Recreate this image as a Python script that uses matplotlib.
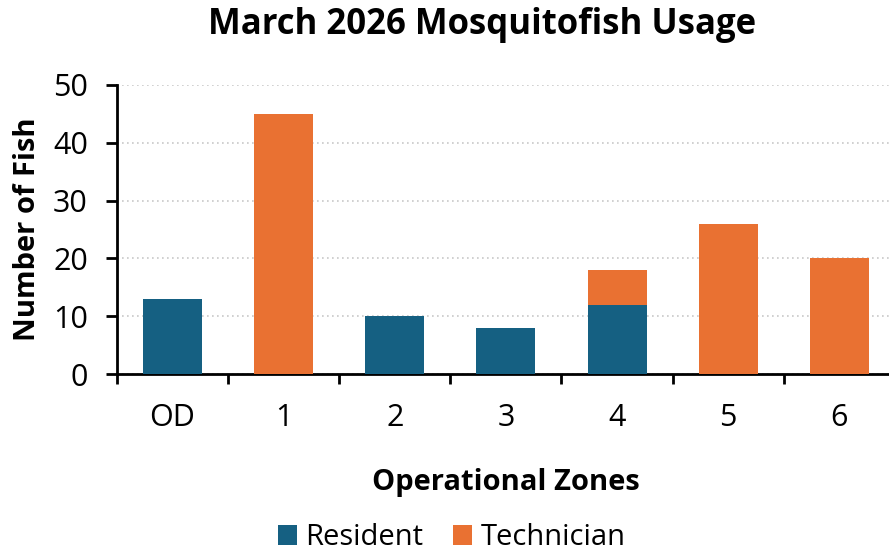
import numpy as np
import matplotlib
matplotlib.use('Agg')
import matplotlib.pyplot as plt

# Data
zones = ['OD', '1', '2', '3', '4', '5', '6']
resident = [13, 0, 10, 8, 12, 0, 0]
technician = [0, 45, 0, 0, 6, 26, 20]

plt.rcParams['font.family'] = ['Open Sans', 'DejaVu Sans']

fig = plt.figure(figsize=(8.89, 5.58), dpi=100)
ax = fig.add_axes([0.1316, 0.3297, 0.875, 0.518])

x = np.arange(len(zones))
ax.bar(x, resident, width=0.53, color='#156082', label='Resident', zorder=3)
ax.bar(x, technician, width=0.53, bottom=resident, color='#E97132',
       label='Technician', zorder=3)

ax.set_xlim(-0.5, 6.5)
ax.set_ylim(0, 50)
ax.set_yticks(range(0, 51, 10))
ax.set_xticks(x)
ax.set_xticklabels(zones)
ax.set_xticks(np.arange(-0.5, 7, 1), minor=True)
ax.tick_params(axis='x', which='major', length=0, pad=21, labelsize=22)
ax.tick_params(axis='x', which='minor', length=7, width=2, direction='out')
ax.tick_params(axis='y', length=8, width=2, direction='out', labelsize=22, pad=13)

ax.grid(axis='y', linestyle=(0, (1, 2)), color='#c8c8c8', linewidth=1.2, zorder=0)
for s in ['top', 'right']:
    ax.spines[s].set_visible(False)
ax.spines['left'].set_linewidth(2)
ax.spines['bottom'].set_linewidth(2)

fig.text(0.542, 0.955, 'March 2026 Mosquitofish Usage', fontsize=25,
         fontweight='bold', ha='center', va='center')
ax.set_ylabel('Number of Fish', fontsize=21, fontweight='bold', labelpad=8)
ax.set_xlabel('Operational Zones', fontsize=21, fontweight='bold', va='center')
ax.xaxis.set_label_coords(0.5, -0.374)

ax.legend(loc='center', bbox_to_anchor=(0.43, -0.567), ncol=2, frameon=False,
          fontsize=21, handlelength=0.65, handleheight=0.65, columnspacing=1.0,
          handletextpad=0.3)

plt.savefig('out.png', dpi=100)
